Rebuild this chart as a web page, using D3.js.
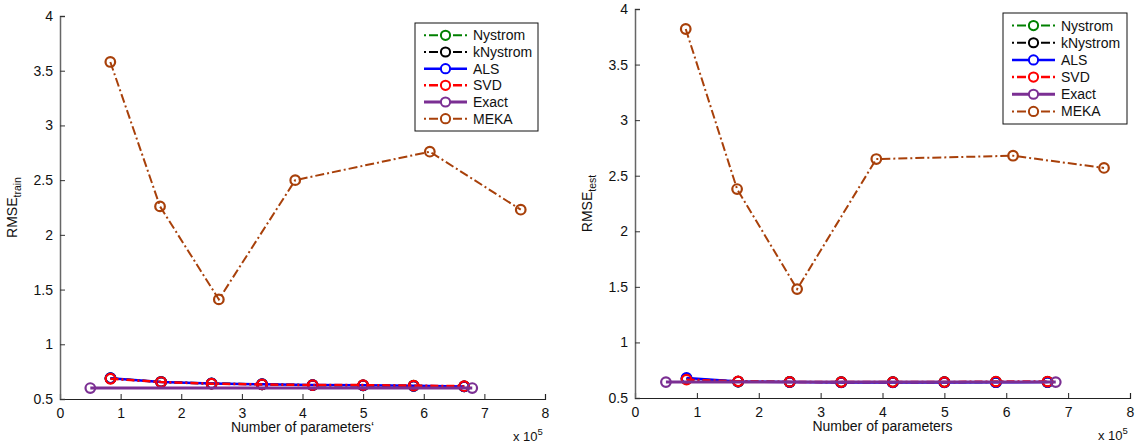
<!DOCTYPE html>
<html>
<head>
<meta charset="utf-8">
<script src="https://cdn.jsdelivr.net/npm/d3@7"></script>
<style>
  html, body { margin: 0; padding: 0; background: #fff; }
  svg { display: block; font-family: "Liberation Sans", Arial, Helvetica, sans-serif; }
</style>
</head>
<body>
<svg id="chart" width="1137" height="445"></svg>
<script>
// x values in units of 1e5 parameters
const xLowRank = [0.833, 1.667, 2.5, 3.333, 4.167, 5.0, 5.833, 6.667];
const xExact = [0.5, 6.8];
const xMekaTrain = [0.83, 1.65, 2.62, 3.88, 6.1, 7.6];
const xMekaTest = [0.82, 1.65, 2.62, 3.9, 6.11, 7.58];

// training RMSE
const trainNystrom  = [0.690, 0.656, 0.642, 0.635, 0.627, 0.625, 0.621, 0.615];
const trainKNystrom = [0.688, 0.655, 0.641, 0.634, 0.627, 0.625, 0.620, 0.615];
const trainALS      = [0.690, 0.655, 0.642, 0.635, 0.627, 0.625, 0.620, 0.615];
const trainSVD      = [0.685, 0.655, 0.640, 0.633, 0.627, 0.627, 0.622, 0.617];
const trainExact    = [0.600, 0.600];
const trainMEKA     = [3.58, 2.26, 1.41, 2.50, 2.76, 2.23];

// test RMSE
const testNystrom  = [0.670, 0.648, 0.645, 0.643, 0.643, 0.643, 0.645, 0.645];
const testKNystrom = [0.675, 0.648, 0.644, 0.642, 0.642, 0.642, 0.643, 0.644];
const testALS      = [0.680, 0.648, 0.643, 0.640, 0.640, 0.640, 0.642, 0.643];
const testSVD      = [0.665, 0.650, 0.645, 0.643, 0.643, 0.643, 0.648, 0.648];
const testExact    = [0.643, 0.643];
const testMEKA     = [3.82, 2.38, 1.48, 2.65, 2.68, 2.57];

const methodNames = ["Nystrom", "kNystrom", "ALS", "SVD", "Exact", "MEKA"];
const xTicks = [0, 1, 2, 3, 4, 5, 6, 7, 8];
const yTicks = [0.5, 1, 1.5, 2, 2.5, 3, 3.5, 4];

const styles = {
  Nystrom:  { color: "#008000", dash: "8,3,2,3", width: 2 },
  kNystrom: { color: "#000000", dash: "8,3,2,3", width: 2 },
  ALS:      { color: "#0000ff", dash: null,      width: 2.5 },
  SVD:      { color: "#ff0000", dash: "8,3,2,3", width: 2.5 },
  Exact:    { color: "#7b2f93", dash: null,      width: 3 },
  MEKA:     { color: "#a8400a", dash: "9,3,2,3", width: 2 }
};

const panels = [
  {
    left: 60, right: 545, top: 16, bottom: 399,
    yLabel: "RMSE", ySub: "train", yLabelX: 17,
    xLabel: "Number of parameters\u2018",
    legend: { x: 415, y: 23, w: 123, h: 108 },
    series: {
      Nystrom:  [xLowRank, trainNystrom],
      kNystrom: [xLowRank, trainKNystrom],
      ALS:      [xLowRank, trainALS],
      SVD:      [xLowRank, trainSVD],
      Exact:    [xExact, trainExact],
      MEKA:     [xMekaTrain, trainMEKA]
    }
  },
  {
    left: 635, right: 1130, top: 9, bottom: 398,
    yLabel: "RMSE", ySub: "test", yLabelX: 592,
    xLabel: "Number of parameters",
    legend: { x: 1003, y: 13, w: 124, h: 111 },
    series: {
      Nystrom:  [xLowRank, testNystrom],
      kNystrom: [xLowRank, testKNystrom],
      ALS:      [xLowRank, testALS],
      SVD:      [xLowRank, testSVD],
      Exact:    [xExact, testExact],
      MEKA:     [xMekaTest, testMEKA]
    }
  }
];

const svg = d3.select("#chart");

panels.forEach(p => {
  const x = d3.scaleLinear().domain([0, 8]).range([p.left, p.right]);
  const y = d3.scaleLinear().domain([0.5, 4]).range([p.bottom, p.top]);
  const g = svg.append("g");

  // x axis with inward ticks
  const xAxis = g.append("g")
    .attr("transform", `translate(0,${p.bottom})`)
    .call(d3.axisBottom(x).tickValues(xTicks).tickSize(-5).tickPadding(7).tickFormat(d3.format("d")));
  xAxis.select(".domain").attr("stroke", "#222").attr("stroke-width", 1.2);
  xAxis.selectAll(".tick line").attr("stroke", "#222");
  xAxis.selectAll("text").attr("font-size", 14).attr("fill", "#111").attr("dy", "0.85em");

  // y axis with inward ticks
  const yAxis = g.append("g")
    .attr("transform", `translate(${p.left},0)`)
    .call(d3.axisLeft(y).tickValues(yTicks).tickSize(-5).tickPadding(7).tickFormat(d => String(d)));
  yAxis.select(".domain").attr("stroke", "#666").attr("stroke-width", 1.5);
  yAxis.selectAll(".tick line").attr("stroke", "#333");
  yAxis.selectAll("text").attr("font-size", 14).attr("fill", "#111");

  // axis labels
  const yl = g.append("text")
    .attr("transform", `translate(${p.yLabelX},${(p.top + p.bottom) / 2}) rotate(-90)`)
    .attr("text-anchor", "middle")
    .attr("font-size", 14)
    .attr("fill", "#111");
  yl.append("tspan").text(p.yLabel);
  yl.append("tspan").attr("font-size", 10.5).attr("dy", 4).text(p.ySub);

  g.append("text")
    .attr("x", (p.left + p.right) / 2)
    .attr("y", p.bottom + 33)
    .attr("text-anchor", "middle")
    .attr("font-size", 14)
    .attr("fill", "#111")
    .text(p.xLabel);

  const mult = g.append("text")
    .attr("x", p.right - 32)
    .attr("y", p.bottom + 42)
    .attr("font-size", 13)
    .attr("fill", "#111");
  mult.append("tspan").text("x 10");
  mult.append("tspan").attr("font-size", 9.5).attr("dy", -6).text("5");

  // series lines and markers
  const line = d3.line().x(d => x(d[0])).y(d => y(d[1]));
  methodNames.forEach(name => {
    const st = styles[name];
    const [xs, ys] = p.series[name];
    const pts = xs.map((v, i) => [v, ys[i]]);
    g.append("path")
      .datum(pts)
      .attr("d", line)
      .attr("fill", "none")
      .attr("stroke", st.color)
      .attr("stroke-width", st.width)
      .attr("stroke-dasharray", st.dash);
    g.selectAll(null)
      .data(pts)
      .enter()
      .append("circle")
      .attr("cx", d => x(d[0]))
      .attr("cy", d => y(d[1]))
      .attr("r", 4.8)
      .attr("fill", "none")
      .attr("stroke", st.color)
      .attr("stroke-width", 2.2);
  });

  // legend
  const L = p.legend;
  const lg = g.append("g");
  lg.append("rect")
    .attr("x", L.x).attr("y", L.y).attr("width", L.w).attr("height", L.h)
    .attr("fill", "#fff").attr("stroke", "#111").attr("stroke-width", 1);
  const rowH = (L.h - 8) / methodNames.length;
  methodNames.forEach((name, i) => {
    const st = styles[name];
    const cy = L.y + 4 + rowH * (i + 0.5);
    const x0 = L.x + 9, x1 = L.x + 52;
    lg.append("line")
      .attr("x1", x0).attr("x2", x1).attr("y1", cy).attr("y2", cy)
      .attr("stroke", st.color).attr("stroke-width", st.width)
      .attr("stroke-dasharray", st.dash ? "2,3,9,3,9,3,9,3,2" : null);
    lg.append("circle")
      .attr("cx", (x0 + x1) / 2).attr("cy", cy).attr("r", 4.6)
      .attr("fill", "#fff").attr("stroke", st.color).attr("stroke-width", 2);
    lg.append("text")
      .attr("x", L.x + 58).attr("y", cy)
      .attr("dy", "0.36em")
      .attr("font-size", 14)
      .attr("fill", "#111")
      .text(name);
  });
});
</script>
</body>
</html>
